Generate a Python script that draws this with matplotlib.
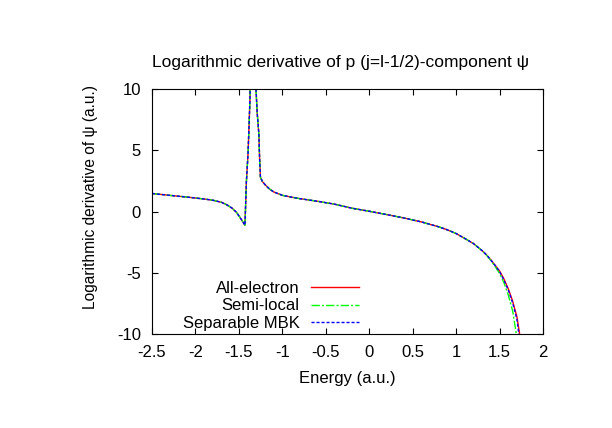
import numpy as np
import matplotlib
matplotlib.use("Agg")
import matplotlib.pyplot as plt

plt.rcParams['font.family'] = ['Liberation Sans', 'DejaVu Sans']

# energy grid (a.u.)
energy = [-2.5, -2.3, -2.1, -1.9, -1.8, -1.7, -1.64, -1.58, -1.53, -1.49, -1.45, -1.43,
          -1.414, -1.395, -1.383, -1.372, -1.335, -1.303, -1.29, -1.27, -1.262, -1.252,
          -1.23, -1.2, -1.15, -1.1, -1.0, -0.9, -0.8, -0.6, -0.4, -0.2, 0.0, 0.2, 0.4,
          0.6, 0.8, 0.9, 1.0, 1.1, 1.2, 1.3, 1.35, 1.4, 1.45, 1.5, 1.55, 1.6, 1.65, 1.7, 1.74]

common = [1.47, 1.32, 1.18, 1.02, 0.92, 0.75, 0.55, 0.28, -0.05, -0.45, -0.9, -1.12,
          2.4, 4.7, 7.0, 9.3, 30.0, 10.0, 8.1, 6.3, 4.4, 2.8,
          2.45, 2.2, 1.85, 1.6, 1.32, 1.18, 1.05, 0.84, 0.6, 0.27, 0.02, -0.25, -0.53,
          -0.85, -1.25, -1.5, -1.8, -2.2, -2.62, -3.2]

all_electron = common + [-3.54, -3.95, -4.4, -4.85, -5.5, -6.3, -7.3, -8.6, -10.4]
semi_local = common + [-3.56, -4.0, -4.5, -5.05, -5.8, -6.8, -8.1, -10.3, -13.0]
separable = common + [-3.54, -3.96, -4.42, -4.9, -5.6, -6.4, -7.45, -8.8, -11.0]

labels = ['All-electron', 'Semi-local', 'Separable MBK']

fig = plt.figure(figsize=(6.12, 4.28), dpi=100)
ax = fig.add_axes([152/612, 1-334/428, 391/612, 245/428])

ax.plot(energy, all_electron, color='#ff0000', lw=1.0, label=labels[0])
ax.plot(energy, semi_local, color='#00ff00', lw=1.0, dashes=(6, 1.5, 1.5, 1.5), label=labels[1])
ax.plot(energy, separable, color='#0000ff', lw=1.0, dashes=(2.2, 1.4), label=labels[2])

ax.set_xlim(-2.5, 2)
ax.set_ylim(-10, 10)
ax.set_xticks(np.arange(-2.5, 2.01, 0.5))
ax.set_xticklabels(['-2.5', '-2', '-1.5', '-1', '-0.5', '0', '0.5', '1', '1.5', '2'])
ax.set_yticks([-10, -5, 0, 5, 10])
ax.set_yticklabels(['-10', '-5', '0', '5', '10'])
ax.tick_params(direction='in', length=4, width=0.8, labelsize=12,
               top=True, right=True, pad=8)
for s in ax.spines.values():
    s.set_linewidth(0.8)

fig.text(341/612, 1-63/428, 'Logarithmic derivative of p (j=l-1/2)-component \u03c8',
         ha='center', va='center', fontsize=12.5)
fig.text(347/612, 1-379/428, 'Energy (a.u.)', ha='center', va='center', fontsize=12)
fig.text(90/612, 1-197/428, 'Logarithmic derivative of \u03c8 (a.u.)',
         ha='center', va='center', rotation=90, fontsize=11.2)

leg = ax.legend(loc='lower right', bbox_to_anchor=(359/612, 1-331/428),
                bbox_transform=fig.transFigure, frameon=False, borderpad=0,
                borderaxespad=0, fontsize=12, markerfirst=False, handlelength=2.9,
                handletextpad=0.66, labelspacing=0.15)
for t in leg.get_texts():
    t.set_ha('right')

fig.savefig('out.png', dpi=100)
